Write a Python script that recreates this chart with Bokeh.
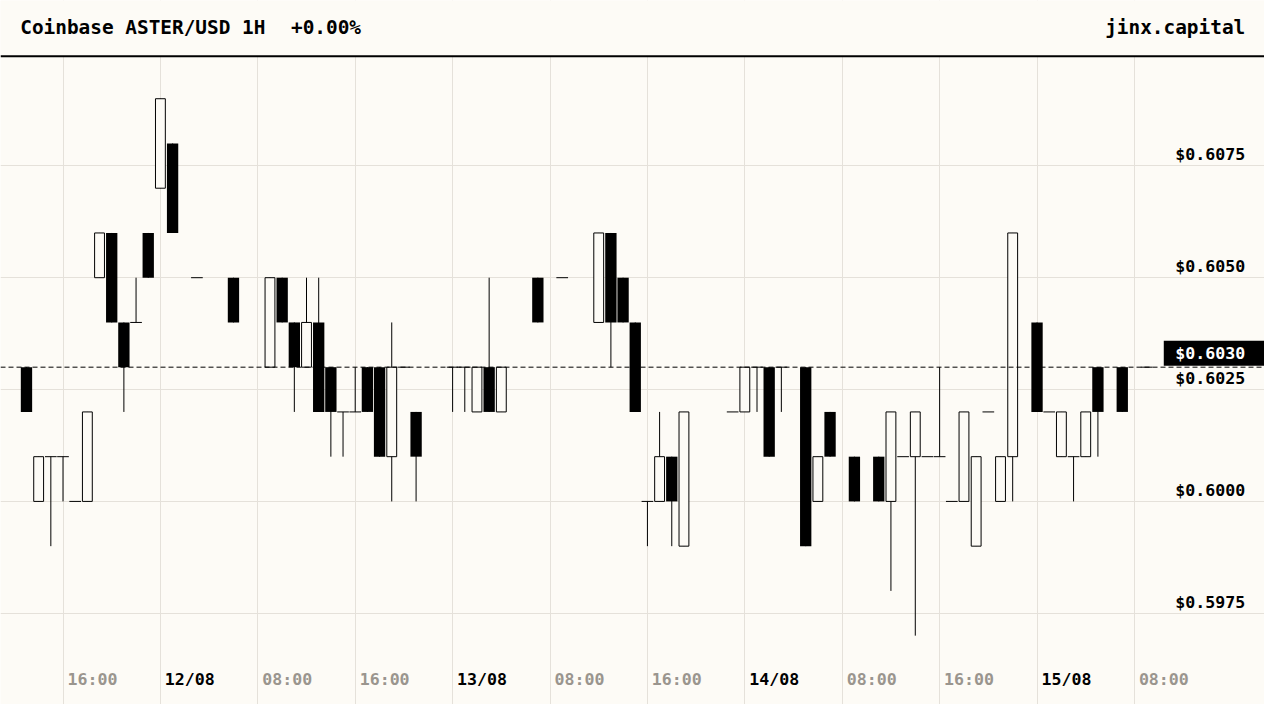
import pandas as pd
from bokeh.plotting import figure
from bokeh.models import ColumnDataSource, Range1d, Grid, FixedTicker, Span, BoxAnnotation, Label
from bokeh.core.properties import value
from bokeh.embed import file_html
from bokeh.resources import INLINE

# ---------------- data ----------------
title_left = "Coinbase ASTER/USD 1H"
title_change = "+0.00%"
brand = "jinx.capital"
start_time = "2025-08-11 13:00"   # first hourly candle
N = None

opens = [
    0.6030, 0.6000, 0.6010, 0.6010, 0.6000, 0.6000, 0.6050, 0.6060, 0.6040, 0.6040,
    0.6060, 0.6070, 0.6080, N, 0.6050, N, N, 0.6050, N, N,
    0.6030, 0.6050, 0.6040, 0.6030, 0.6040, 0.6030, 0.6020, 0.6020, 0.6030, 0.6030,
    0.6010, 0.6030, 0.6020, N, N, 0.6030, 0.6030, 0.6020, 0.6030, 0.6020,
    N, N, 0.6050, N, 0.6050, N, N, 0.6040, 0.6060, 0.6050,
    0.6040, 0.6000, 0.6000, 0.6010, 0.5990, N, N, N, 0.6020, 0.6020,
    0.6030, 0.6030, 0.6030, N, 0.6030, 0.6000, 0.6020, N, 0.6010, N,
    0.6010, 0.6000, 0.6010, 0.6010, 0.6010, 0.6010, 0.6000, 0.6000, 0.5990, 0.6020,
    0.6000, 0.6010, N, 0.6040, 0.6020, 0.6010, 0.6010, 0.6010, 0.6030, N,
    0.6030, N, 0.6030,
]
highs = [
    0.6030, 0.6010, 0.6010, 0.6010, 0.6000, 0.6020, 0.6060, 0.6060, 0.6040, 0.6050,
    0.6060, 0.6090, 0.6080, N, 0.6050, N, N, 0.6050, N, N,
    0.6050, 0.6050, 0.6040, 0.6050, 0.6050, 0.6030, 0.6020, 0.6030, 0.6030, 0.6030,
    0.6040, 0.6030, 0.6020, N, N, 0.6030, 0.6030, 0.6030, 0.6050, 0.6030,
    N, N, 0.6050, N, 0.6050, N, N, 0.6060, 0.6060, 0.6050,
    0.6040, 0.6000, 0.6020, 0.6010, 0.6020, N, N, N, 0.6020, 0.6030,
    0.6030, 0.6030, 0.6030, N, 0.6030, 0.6010, 0.6020, N, 0.6010, N,
    0.6010, 0.6020, 0.6010, 0.6020, 0.6010, 0.6030, 0.6000, 0.6020, 0.6010, 0.6020,
    0.6010, 0.6060, N, 0.6040, 0.6020, 0.6020, 0.6010, 0.6020, 0.6030, N,
    0.6030, N, 0.6030,
]
lows = [
    0.6020, 0.6000, 0.5990, 0.6000, 0.6000, 0.6000, 0.6050, 0.6040, 0.6020, 0.6040,
    0.6050, 0.6070, 0.6060, N, 0.6050, N, N, 0.6040, N, N,
    0.6030, 0.6040, 0.6020, 0.6030, 0.6020, 0.6010, 0.6010, 0.6020, 0.6020, 0.6010,
    0.6000, 0.6030, 0.6000, N, N, 0.6020, 0.6020, 0.6020, 0.6020, 0.6020,
    N, N, 0.6040, N, 0.6050, N, N, 0.6040, 0.6030, 0.6040,
    0.6020, 0.5990, 0.6000, 0.5990, 0.5990, N, N, N, 0.6020, 0.6020,
    0.6020, 0.6010, 0.6020, N, 0.5990, 0.6000, 0.6010, N, 0.6000, N,
    0.6000, 0.5980, 0.6010, 0.5970, 0.6010, 0.6010, 0.6000, 0.6000, 0.5990, 0.6020,
    0.6000, 0.6000, N, 0.6020, 0.6020, 0.6010, 0.6000, 0.6010, 0.6010, N,
    0.6020, N, 0.6030,
]
closes = [
    0.6020, 0.6010, 0.6010, 0.6010, 0.6000, 0.6020, 0.6060, 0.6040, 0.6030, 0.6040,
    0.6050, 0.6090, 0.6060, N, 0.6050, N, N, 0.6040, N, N,
    0.6050, 0.6040, 0.6030, 0.6040, 0.6020, 0.6020, 0.6020, 0.6020, 0.6020, 0.6010,
    0.6030, 0.6030, 0.6010, N, N, 0.6030, 0.6030, 0.6030, 0.6020, 0.6030,
    N, N, 0.6040, N, 0.6050, N, N, 0.6060, 0.6040, 0.6040,
    0.6020, 0.6000, 0.6010, 0.6000, 0.6020, N, N, N, 0.6020, 0.6030,
    0.6030, 0.6010, 0.6030, N, 0.5990, 0.6010, 0.6010, N, 0.6000, N,
    0.6000, 0.6020, 0.6010, 0.6020, 0.6010, 0.6010, 0.6000, 0.6020, 0.6010, 0.6020,
    0.6010, 0.6060, N, 0.6020, 0.6020, 0.6020, 0.6010, 0.6020, 0.6020, N,
    0.6020, N, 0.6030,
]
price_ticks = [0.5975, 0.6000, 0.6025, 0.6050, 0.6075]

# ---------------- style / layout ----------------
BG = "#fdfbf6"
GRID = "#e5e1da"
GRAY = "#9a958e"
INK = "#000000"
FONT = "DejaVu Sans Mono"
W, H = 1264, 704
SX, SY = W / 1280.0, H / 720.0
PX_PER_H = 12.3295 * SX
X0_PX = 26.31 * SX             # px of first candle centre
PX_PER_PRICE = 45760.0 * SY
Y_REF_PX, Y_REF_PRICE = 283.5 * SY, 0.6050
HOUR = 3600000.0

times = pd.date_range(pd.Timestamp(start_time), periods=len(opens), freq="h")
t0_ms = pd.Timestamp(start_time).value / 1e6
xs = [t.value / 1e6 for t in times]

def px_to_x(px):
    return t0_ms + (px - X0_PX) / PX_PER_H * HOUR

def py_to_y(py):
    return Y_REF_PRICE + (Y_REF_PX - py) / PX_PER_PRICE

def y_to_py(y):
    return Y_REF_PX - (y - Y_REF_PRICE) * PX_PER_PRICE

p = figure(width=W, height=H, x_range=Range1d(px_to_x(0), px_to_x(W)),
           y_range=Range1d(py_to_y(H), py_to_y(0)),
           x_axis_type=None, y_axis_type=None, toolbar_location=None,
           output_backend="svg", min_border=0,
           background_fill_color=BG, border_fill_color=BG, outline_line_color=None)

# grids
grid_times = [x for x, t in zip(xs, times) if t.hour % 8 == 0]
p.add_layout(Grid(dimension=0, ticker=FixedTicker(ticks=grid_times),
                  grid_line_color=GRID, grid_line_width=1))
p.add_layout(Grid(dimension=1, ticker=FixedTicker(ticks=price_ticks),
                  grid_line_color=GRID, grid_line_width=1))

# candles
wick = dict(x=[], hi=[], lo=[])
down = dict(x=[], top=[], bottom=[])
up = dict(x=[], top=[], bottom=[])
doji = dict(x0=[], x1=[], y=[])
for x, o, h, l, c in zip(xs, opens, highs, lows, closes):
    if o is None:
        continue
    if h > l:
        wick["x"].append(x); wick["hi"].append(h); wick["lo"].append(l)
    if c < o:
        down["x"].append(x); down["top"].append(o); down["bottom"].append(c)
    elif c > o:
        up["x"].append(x); up["top"].append(c); up["bottom"].append(o)
    else:
        doji["x0"].append(x - 0.48 * HOUR); doji["x1"].append(x + 0.48 * HOUR); doji["y"].append(o)

p.segment(x0="x", y0="hi", x1="x", y1="lo", source=ColumnDataSource(wick),
          line_color=INK, line_width=1)
p.segment(x0="x0", y0="y", x1="x1", y1="y", source=ColumnDataSource(doji),
          line_color=INK, line_width=1)
p.vbar(x="x", top="top", bottom="bottom", width=0.93 * HOUR, source=ColumnDataSource(down),
       fill_color=INK, line_color=None)
p.vbar(x="x", top="top", bottom="bottom", width=0.81 * HOUR, source=ColumnDataSource(up),
       fill_color=BG, line_color=INK, line_width=1)

TICK_FS = f"{17 * SY:.1f}px"
HDR_FS = f"{19.8 * SY:.1f}px"
# note: in this renderer the given y lands on the middle of the digits/capitals

# x tick labels
xl = dict(x=[], text=[], color=[])
for x, t in zip(xs, times):
    if t.hour % 8 == 0:
        xl["x"].append(x)
        if t.hour == 0:
            xl["text"].append(t.strftime("%d/%m")); xl["color"].append(INK)
        else:
            xl["text"].append(t.strftime("%H:%M")); xl["color"].append(GRAY)
xl["y"] = [py_to_y(694.5 * SY)] * len(xl["x"])
p.text(x="x", y="y", text="text", text_color="color", source=ColumnDataSource(xl),
       x_offset=4.5 * SX, text_align="left", text_baseline="alphabetic",
       text_font=value(FONT), text_font_style="bold", text_font_size=TICK_FS)

# y tick labels
yl = dict(x=[px_to_x(1260.5 * SX)] * len(price_ticks), y=price_ticks,
          text=[f"${t:.4f}" for t in price_ticks])
p.text(x="x", y="y", text="text", source=ColumnDataSource(yl), y_offset=-11.5 * SY,
       text_align="right", text_baseline="alphabetic", text_color=INK,
       text_font=value(FONT), text_font_style="bold", text_font_size=TICK_FS)

# last price line + tag
last = [c for c in closes if c is not None][-1]
p.add_layout(Span(location=last, dimension="width", line_color=INK, line_width=1,
                  line_dash="5 3"))
ly = y_to_py(last)
p.add_layout(BoxAnnotation(left=px_to_x(1178 * SX), bottom=py_to_y(ly - 1.5 * SY),
                           top=py_to_y(ly - 27 * SY),
                           fill_color=INK, fill_alpha=1.0, line_color=None))
p.add_layout(Label(x=px_to_x(1260.5 * SX), y=py_to_y(ly - 14 * SY), text=f"${last:.4f}",
                   text_align="right", text_baseline="alphabetic", text_color="#ffffff",
                   text_font=FONT, text_font_style="bold", text_font_size=TICK_FS))

# header
sep_y = py_to_y(57 * SY)
p.add_layout(BoxAnnotation(bottom=sep_y, fill_color=BG, fill_alpha=1.0, line_color=None))
p.add_layout(Span(location=sep_y, dimension="width", line_color=INK, line_width=2))
hdr_y = py_to_y(27.9 * SY)
p.add_layout(Label(x=px_to_x(20 * SX), y=hdr_y, text=title_left, text_align="left",
                   text_baseline="alphabetic", text_color=INK, text_font=FONT,
                   text_font_style="bold", text_font_size=HDR_FS))
p.add_layout(Label(x=px_to_x((20 + 23 * 11.92) * SX), y=hdr_y, text=title_change,
                   text_align="left", text_baseline="alphabetic", text_color=INK,
                   text_font=FONT, text_font_style="bold", text_font_size=HDR_FS))
p.add_layout(Label(x=px_to_x(1260.5 * SX), y=hdr_y, text=brand, text_align="right",
                   text_baseline="alphabetic", text_color=INK, text_font=FONT,
                   text_font_style="bold", text_font_size=HDR_FS))

open("out.html", "w").write(file_html(p, INLINE))
